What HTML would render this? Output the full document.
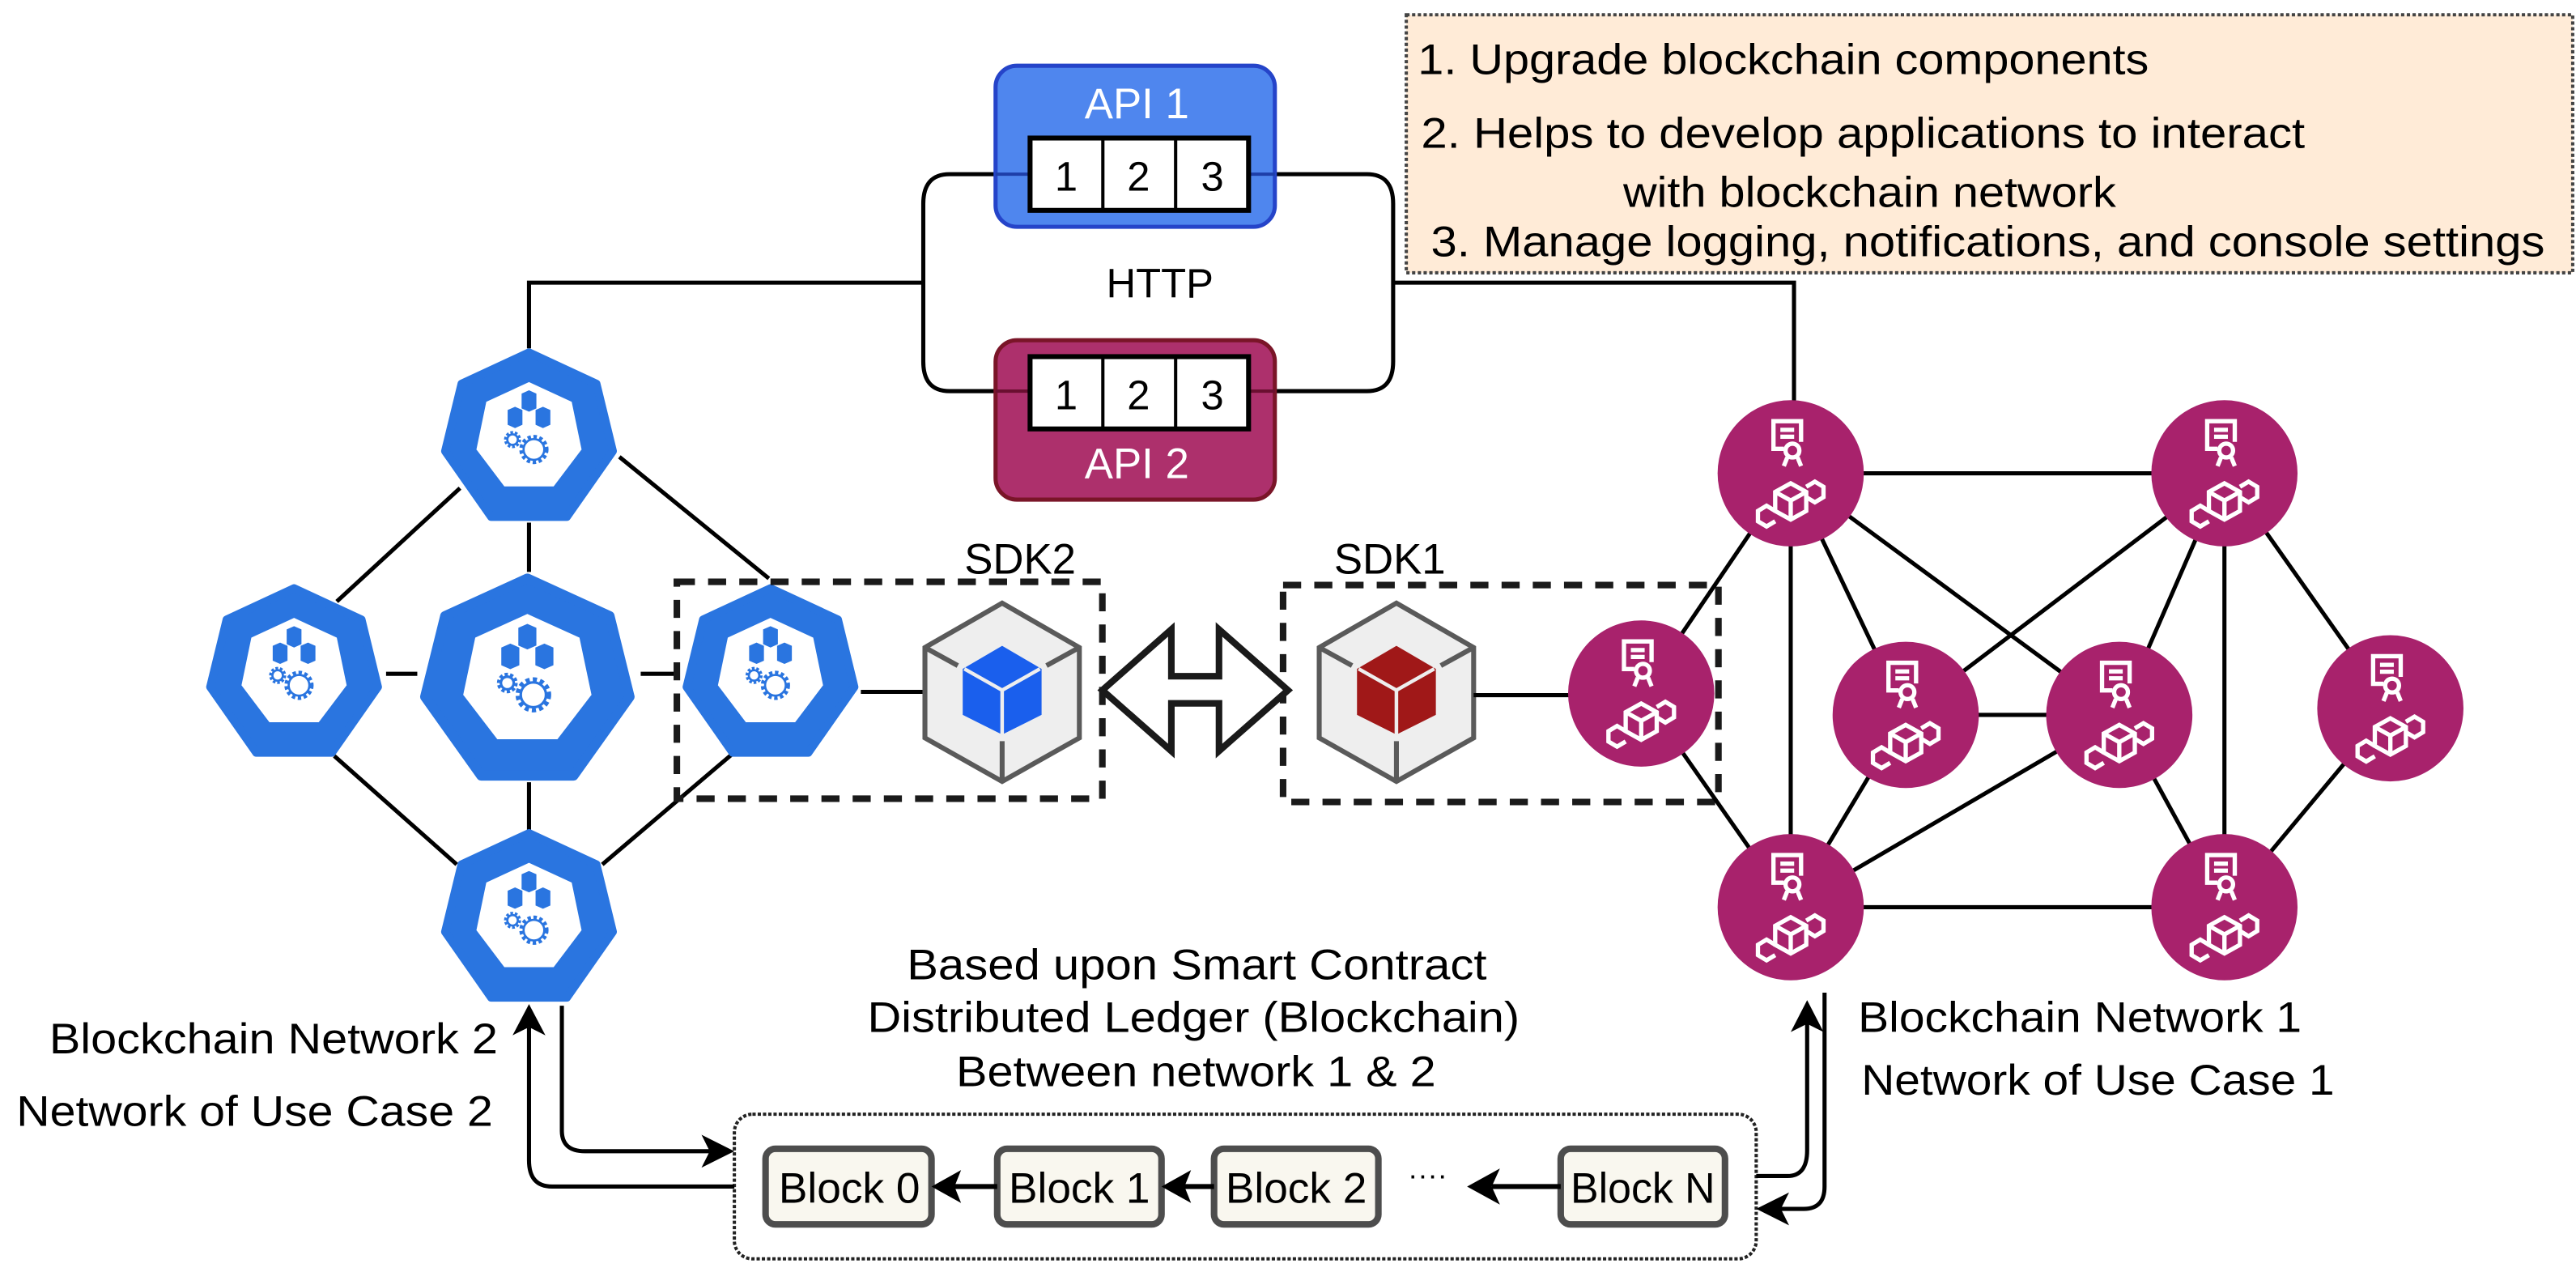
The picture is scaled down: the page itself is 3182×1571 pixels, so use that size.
<!DOCTYPE html>
<html><head><meta charset="utf-8"><style>
html,body{margin:0;padding:0;background:#fff;}
svg{display:block;}
text{font-family:"Liberation Sans",Arial,sans-serif;fill:#000;}
</style></head><body>
<svg width="3182" height="1571" viewBox="0 0 1568 774" preserveAspectRatio="none" xmlns="http://www.w3.org/2000/svg">
<defs>
<g id="hex">
 <path d="M0,-50 L41,-31 L51,10 L23,50 L-23,50 L-51,10 L-41,-31 Z" fill="#2a75e0" stroke="#2a75e0" stroke-width="5" stroke-linejoin="round"/>
 <path d="M0,-32 L26,-20 L32,9 L15,31.5 L-15,31.5 L-32,9 L-26,-20 Z" fill="#fff"/>
 <g fill="#2a75e0">
  <path d="M-4.5,-25 L0,-27 L4.5,-25 L4.5,-16 L0,-14 L-4.5,-16Z"/>
  <path d="M-13,-15 L-8.5,-17 L-4,-15 L-4,-6 L-8.5,-4 L-13,-6Z"/>
  <path d="M4,-15 L8.5,-17 L13,-15 L13,-6 L8.5,-4 L4,-6Z"/>
 </g>
 <g fill="none" stroke="#2a75e0">
  <circle cx="-10" cy="3" r="4" stroke-width="2.4" stroke-dasharray="1.5 1"/>
  <circle cx="-10" cy="3" r="3.2" stroke-width="1.3"/>
  <circle cx="3" cy="9" r="7.5" stroke-width="2.8" stroke-dasharray="2 1.5"/>
  <circle cx="3" cy="9" r="6.3" stroke-width="1.3"/>
 </g>
</g>
<g id="pc">
 <circle cx="0" cy="0" r="44.5" fill="#a8226c"/>
 <g fill="none" stroke="#fff" stroke-width="2.5" transform="translate(0,4) scale(1.05)">
  <path d="M-4,-18 L-10,-18 L-10,-34 L6,-34 L6,-22"/>
  <line x1="-6" y1="-29" x2="2" y2="-29"/><line x1="-6" y1="-25" x2="2" y2="-25"/>
  <circle cx="1" cy="-17" r="4"/>
  <path d="M-2,-13 L-4,-8 M4,-13 L6,-8"/>
  <path d="M0,2 L9,7 L9,18 L0,23 L-9,18 L-9,7 Z"/>
  <path d="M-9,7 L0,12 L9,7 M0,12 L0,23"/>
  <path d="M9,4 L14,1 L19,4 L19,10 L14,13 L9,10"/>
  <path d="M-9,18 L-14,15 L-19,18 L-19,24 L-14,27 L-9,24"/>
 </g>
</g>
<g id="shield">
 <path d="M610,367 L657,394 L657,449 L610,475.5 L563,449 L563,394 Z" fill="#eeeeee" stroke="#5a5a5a" stroke-width="3"/>
 <path d="M563,394 L583,405 M657,394 L637,405 M610,451 L610,475" stroke="#5a5a5a" stroke-width="3" fill="none"/>
</g>
</defs>

<g fill="none" stroke="#000" stroke-width="2.5">
 <path d="M322,212 L322,172 L562,172"/>
 <path d="M607,106 L578,106 Q562,106 562,124 L562,220 Q562,238 578,238 L607,238"/>
 <path d="M776,106 L832,106 Q848,106 848,124 L848,220 Q848,238 832,238 L776,238"/>
 <path d="M848,172 L1092,172 L1092,244"/>
</g>

<rect x="606" y="40" width="170" height="98" rx="13" fill="#4f86ee" stroke="#2544c9" stroke-width="2.5"/>
<text x="692" y="72" font-size="26" text-anchor="middle" style="fill:#fff">API 1</text>
<line x1="606" y1="106" x2="776" y2="106" stroke="#1e3ea8" stroke-width="2"/>
<rect x="627" y="84" width="133" height="44" fill="#fff" stroke="#000" stroke-width="3"/>
<line x1="671.3" y1="84" x2="671.3" y2="128" stroke="#000" stroke-width="2"/>
<line x1="715.6" y1="84" x2="715.6" y2="128" stroke="#000" stroke-width="2"/>
<text x="649" y="116" font-size="25" text-anchor="middle">1</text>
<text x="693" y="116" font-size="25" text-anchor="middle">2</text>
<text x="738" y="116" font-size="25" text-anchor="middle">3</text>

<rect x="606" y="207" width="170" height="97" rx="13" fill="#ad306c" stroke="#7a1528" stroke-width="2.5"/>
<line x1="606" y1="238" x2="776" y2="238" stroke="#6a0f30" stroke-width="2"/>
<rect x="627" y="217" width="133" height="44" fill="#fff" stroke="#000" stroke-width="3"/>
<line x1="671.3" y1="217" x2="671.3" y2="261" stroke="#000" stroke-width="2"/>
<line x1="715.6" y1="217" x2="715.6" y2="261" stroke="#000" stroke-width="2"/>
<text x="649" y="249" font-size="25" text-anchor="middle">1</text>
<text x="693" y="249" font-size="25" text-anchor="middle">2</text>
<text x="738" y="249" font-size="25" text-anchor="middle">3</text>
<text x="692" y="291" font-size="26" text-anchor="middle" style="fill:#fff">API 2</text>

<text x="706" y="181" font-size="25" text-anchor="middle">HTTP</text>

<rect x="856" y="9" width="710" height="157" fill="#ffebd7" stroke="#444" stroke-width="2" stroke-dasharray="2 1.5"/>
<text x="863" y="45" font-size="26" textLength="445" lengthAdjust="spacingAndGlyphs">1. Upgrade blockchain components</text>
<text x="865" y="90" font-size="26" textLength="538" lengthAdjust="spacingAndGlyphs">2. Helps to develop applications to interact</text>
<text x="988" y="126" font-size="26" textLength="300" lengthAdjust="spacingAndGlyphs">with blockchain network</text>
<text x="871" y="156" font-size="26" textLength="678" lengthAdjust="spacingAndGlyphs">3. Manage logging, notifications, and console settings</text>

<g stroke="#000" stroke-width="2.5" fill="none">
 <line x1="280" y1="297" x2="205" y2="366"/>
 <line x1="322" y1="318" x2="322" y2="348"/>
 <line x1="377" y1="278" x2="468" y2="352"/>
 <line x1="235" y1="410" x2="254" y2="410"/>
 <line x1="390" y1="410" x2="412" y2="410"/>
 <line x1="524" y1="421" x2="563" y2="421"/>
 <line x1="203.5" y1="460" x2="278" y2="526"/>
 <line x1="322" y1="476" x2="322" y2="505"/>
 <line x1="445.5" y1="459" x2="366.6" y2="526"/>
</g>
<use href="#hex" transform="translate(322,264.5)"/>
<use href="#hex" transform="translate(179,408)"/>
<use href="#hex" transform="translate(321,412) scale(1.22,1.2)"/>
<use href="#hex" transform="translate(469,408)"/>
<use href="#hex" transform="translate(322,557)"/>

<rect x="412" y="354" width="259" height="132" fill="none" stroke="#1a1a1a" stroke-width="4" stroke-dasharray="11 8"/>
<text x="587" y="349" font-size="26">SDK2</text>
<use href="#shield"/>
<path d="M610,393 L634,407 L634,435 L610,447 L586,435 L586,407 Z" fill="#1a5fed"/>
<path d="M587,407 L610,420 L633,407 M610,420 L610,447" stroke="#eee" stroke-width="2.2" fill="none"/>

<rect x="781" y="356" width="265" height="132" fill="none" stroke="#1a1a1a" stroke-width="4" stroke-dasharray="11 8"/>
<text x="812" y="349" font-size="26">SDK1</text>
<use href="#shield" transform="translate(240,0)"/>
<path d="M850,393 L874,407 L874,435 L850,447 L826,435 L826,407 Z" fill="#a01818"/>
<path d="M827,407 L850,420 L873,407 M850,420 L850,447" stroke="#eee" stroke-width="2.2" fill="none"/>
<line x1="897" y1="423" x2="958" y2="423" stroke="#000" stroke-width="2.5"/>

<path d="M671,420 L713,383 L713,411.5 L742,411.5 L742,383 L784,420 L742,457 L742,428 L713,428 L713,457 Z" fill="#fff" stroke="#1a1a1a" stroke-width="4" stroke-linejoin="miter"/>

<g stroke="#000" stroke-width="2.5">
 <line x1="1090" y1="288" x2="1354" y2="288"/>
 <line x1="1090" y1="288" x2="999" y2="422"/>
 <line x1="1090" y1="288" x2="1090" y2="552"/>
 <line x1="1090" y1="288" x2="1160" y2="435"/>
 <line x1="1090" y1="288" x2="1290" y2="435"/>
 <line x1="1354" y1="288" x2="1160" y2="435"/>
 <line x1="1354" y1="288" x2="1290" y2="435"/>
 <line x1="1354" y1="288" x2="1354" y2="552"/>
 <line x1="1354" y1="288" x2="1455" y2="431"/>
 <line x1="999" y1="422" x2="1090" y2="552"/>
 <line x1="1160" y1="435" x2="1290" y2="435"/>
 <line x1="1160" y1="435" x2="1090" y2="552"/>
 <line x1="1290" y1="435" x2="1090" y2="552"/>
 <line x1="1290" y1="435" x2="1354" y2="552"/>
 <line x1="1455" y1="431" x2="1354" y2="552"/>
 <line x1="1090" y1="552" x2="1354" y2="552"/>
</g>
<use href="#pc" transform="translate(1090,288)"/>
<use href="#pc" transform="translate(1354,288)"/>
<use href="#pc" transform="translate(999,422)"/>
<use href="#pc" transform="translate(1160,435)"/>
<use href="#pc" transform="translate(1290,435)"/>
<use href="#pc" transform="translate(1455,431)"/>
<use href="#pc" transform="translate(1090,552)"/>
<use href="#pc" transform="translate(1354,552)"/>

<text x="30" y="641" font-size="26" textLength="273" lengthAdjust="spacingAndGlyphs">Blockchain Network 2</text>
<text x="10" y="685" font-size="26" textLength="290" lengthAdjust="spacingAndGlyphs">Network of Use Case 2</text>
<text x="1131" y="628" font-size="26" textLength="270" lengthAdjust="spacingAndGlyphs">Blockchain Network 1</text>
<text x="1133" y="666" font-size="26" textLength="288" lengthAdjust="spacingAndGlyphs">Network of Use Case 1</text>
<text x="552" y="596" font-size="26" textLength="353" lengthAdjust="spacingAndGlyphs">Based upon Smart Contract</text>
<text x="528" y="628" font-size="26" textLength="397" lengthAdjust="spacingAndGlyphs">Distributed Ledger (Blockchain)</text>
<text x="582" y="661" font-size="26" textLength="292" lengthAdjust="spacingAndGlyphs">Between network 1 &amp; 2</text>

<rect x="447" y="678" width="622" height="88" rx="11" fill="none" stroke="#222" stroke-width="2" stroke-dasharray="2 1.2"/>
<g fill="#f9f7ef" stroke="#4d4d4d" stroke-width="4">
 <rect x="466" y="699" width="101" height="46" rx="6"/>
 <rect x="607" y="699" width="100" height="46" rx="6"/>
 <rect x="739" y="699" width="100" height="46" rx="6"/>
 <rect x="950" y="699" width="100" height="46" rx="6"/>
</g>
<text x="517" y="732" font-size="26" text-anchor="middle" textLength="86" lengthAdjust="spacingAndGlyphs">Block 0</text>
<text x="657" y="732" font-size="26" text-anchor="middle" textLength="86" lengthAdjust="spacingAndGlyphs">Block 1</text>
<text x="789" y="732" font-size="26" text-anchor="middle" textLength="86" lengthAdjust="spacingAndGlyphs">Block 2</text>
<text x="1000" y="732" font-size="26" text-anchor="middle" textLength="88" lengthAdjust="spacingAndGlyphs">Block N</text>
<g stroke="#000" stroke-width="3" fill="none">
 <line x1="607" y1="722" x2="580" y2="722"/>
 <line x1="739" y1="722" x2="720" y2="722"/>
 <line x1="950" y1="722" x2="908" y2="722"/>
</g>
<g fill="#000">
 <path d="M567,722 L585,712 L581,722 L585,732 Z"/>
 <path d="M707,722 L725,712 L721,722 L725,732 Z"/>
 <path d="M893,722 L913,711 L908,722 L913,733 Z"/>
</g>
<text x="869" y="721" font-size="18" text-anchor="middle">····</text>

<g stroke="#000" stroke-width="2.5" fill="none">
 <path d="M447,722 L336,722 Q322,722 322,706 L322,625"/>
 <path d="M342,612 L342,688 Q342,700.5 356,700.5 L432,700.5"/>
 <path d="M1069,715.6 L1088,715.6 Q1100,715.6 1100,700 L1100,622"/>
 <path d="M1110.6,604 L1110.6,722 Q1110.6,735.6 1098,735.6 L1082,735.6"/>
</g>
<g fill="#000">
 <path d="M322,611 L332,630 L322,625 L312,630 Z"/>
 <path d="M447,700.5 L427,690.5 L432,700.5 L427,710.5 Z"/>
 <path d="M1100,608.6 L1110,628 L1100,623 L1090,628 Z"/>
 <path d="M1069,735.6 L1089,725.6 L1084,735.6 L1089,745.6 Z"/>
</g>
</svg>
</body></html>
